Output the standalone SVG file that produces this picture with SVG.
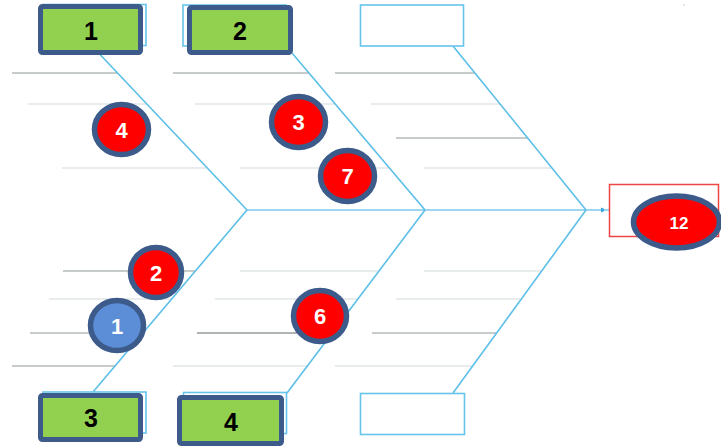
<svg xmlns="http://www.w3.org/2000/svg" width="721" height="447" viewBox="0 0 721 447">
<style>
.bone{stroke:#5BBFE8;stroke-width:1.6;fill:none}
.spine{stroke:#9ED6F0;stroke-width:2.2;fill:none}
.rib{stroke-width:1.6;fill:none}
.rm{stroke:#B4BBB9}
.rl{stroke:#E2E6E6}
.rd{stroke:#959D9B}
.frame{fill:#fff;stroke:#66C4EA;stroke-width:1.6}
.cat{fill:#92D050;stroke:#3C5A8A;stroke-width:5}
.cattxt{font-family:"Liberation Sans",Arial,sans-serif;font-weight:bold;font-size:25px;fill:#000;text-anchor:middle}
.badge{fill:#FF0000;stroke:#3C5A8A;stroke-width:5.5}
.badgeb{fill:#5B8ED6;stroke:#3C5A8A;stroke-width:5.5}
.btxt{font-family:"Liberation Sans",Arial,sans-serif;font-weight:bold;font-size:22px;fill:#fff;text-anchor:middle}
</style>
<defs>
<marker id="arr" markerWidth="6" markerHeight="6" refX="5" refY="3" orient="auto" markerUnits="userSpaceOnUse">
<path d="M0,0.5 L6,3 L0,5.5 Z" fill="#3AA8DE"/>
</marker>
</defs>
<rect width="721" height="447" fill="#fff"/>
<circle cx="684" cy="5" r="0.8" fill="#C8C8C8"/>
<g id="ribs">
<line class="rib rm" x1="12" y1="73" x2="117" y2="73"/>
<line class="rib rl" x1="28" y1="104" x2="146" y2="104"/>
<line class="rib rl" x1="62" y1="168" x2="206" y2="168"/>
<line class="rib rm" x1="173" y1="73" x2="309" y2="73"/>
<line class="rib rl" x1="195" y1="104" x2="336" y2="104"/>
<line class="rib rl" x1="240" y1="168" x2="389" y2="168"/>
<line class="rib rm" x1="335" y1="73" x2="475" y2="73"/>
<line class="rib rl" x1="371" y1="104" x2="500" y2="104"/>
<line class="rib rm" x1="396" y1="138" x2="527" y2="138"/>
<line class="rib rl" x1="424" y1="168" x2="551" y2="168"/>
<line class="rib rm" x1="63" y1="271" x2="195" y2="271"/>
<line class="rib rl" x1="49" y1="299" x2="172" y2="299"/>
<line class="rib rm" x1="30" y1="333" x2="143" y2="333"/>
<line class="rib rm" x1="12" y1="366" x2="115" y2="366"/>
<line class="rib rl" x1="240" y1="271" x2="379" y2="271"/>
<line class="rib rl" x1="215" y1="299" x2="358" y2="299"/>
<line class="rib rd" x1="197" y1="333" x2="332" y2="333"/>
<line class="rib rl" x1="173" y1="366" x2="307" y2="366"/>
<line class="rib rl" x1="424" y1="271" x2="541" y2="271"/>
<line class="rib rl" x1="396" y1="299" x2="520" y2="299"/>
<line class="rib rm" x1="372" y1="333" x2="496" y2="333"/>
<line class="rib rl" x1="335" y1="366" x2="472" y2="366"/>
</g>
<g id="connectors">
<line class="spine" x1="247" y1="210" x2="606" y2="210" marker-end="url(#arr)"/>
<line class="spine" x1="604" y1="210" x2="610" y2="210"/>
<line class="bone" x1="92" y1="46" x2="247" y2="210"/>
<line class="bone" x1="292" y1="53" x2="425" y2="210"/>
<line class="bone" x1="453" y1="46" x2="586" y2="210"/>
<line class="bone" x1="247" y1="210" x2="93" y2="392"/>
<line class="bone" x1="425" y1="210" x2="287" y2="393"/>
<line class="bone" x1="586" y1="210" x2="453" y2="393"/>
</g>
<g id="cat1">
<rect class="frame" x="43" y="4.5" width="103" height="41"/>
<rect class="cat" x="40.5" y="6.5" width="100" height="46" rx="2"/>
<text class="cattxt" x="91" y="40">1</text>
</g>
<g id="cat2">
<rect class="frame" x="183" y="5" width="103" height="41"/>
<rect class="cat" x="189.5" y="7.5" width="101" height="45" rx="2"/>
<text class="cattxt" x="240" y="40">2</text>
</g>
<g id="cat-top-empty">
<rect class="frame" x="360.5" y="5" width="103" height="41"/>
</g>
<g id="cat3">
<rect class="frame" x="43" y="392" width="103" height="41"/>
<rect class="cat" x="40.5" y="395.5" width="100" height="44" rx="2"/>
<text class="cattxt" x="91" y="427">3</text>
</g>
<g id="cat4">
<rect class="frame" x="183.5" y="392.5" width="103" height="41"/>
<rect class="cat" x="179.5" y="397.5" width="102" height="46" rx="2"/>
<text class="cattxt" x="231" y="431">4</text>
</g>
<g id="cat-bottom-empty">
<rect class="frame" x="360.5" y="393.5" width="104" height="41"/>
</g>
<g id="effect">
<rect x="609.5" y="184.5" width="109" height="52" fill="#fff" stroke="#EE4444" stroke-width="1.5"/>
<ellipse cx="676.5" cy="222" rx="43" ry="26" fill="#FF0000" stroke="#3C5A8A" stroke-width="5.5"/>
<text x="679" y="228.5" font-family="'Liberation Sans',Arial,sans-serif" font-weight="bold" font-size="17" fill="#fff" text-anchor="middle">12</text>
</g>
<g id="b4">
<ellipse class="badge" cx="121.5" cy="129.5" rx="27" ry="25"/>
<text class="btxt" x="121.5" y="137.5">4</text>
</g>
<g id="b3">
<ellipse class="badge" cx="298.5" cy="122" rx="27" ry="25.5"/>
<text class="btxt" x="298.5" y="130">3</text>
</g>
<g id="b7">
<ellipse class="badge" cx="347.5" cy="176" rx="27" ry="25.5"/>
<text class="btxt" x="347.5" y="184">7</text>
</g>
<g id="b2">
<ellipse class="badge" cx="156" cy="272.5" rx="25.5" ry="25"/>
<text class="btxt" x="156" y="280.5">2</text>
</g>
<g id="b1">
<ellipse class="badgeb" cx="117" cy="325.5" rx="26.5" ry="25"/>
<text class="btxt" x="117" y="333.5" font-weight="normal">1</text>
</g>
<g id="b6">
<ellipse class="badge" cx="320" cy="316" rx="26.5" ry="25.5"/>
<text class="btxt" x="320" y="324">6</text>
</g>
</svg>
